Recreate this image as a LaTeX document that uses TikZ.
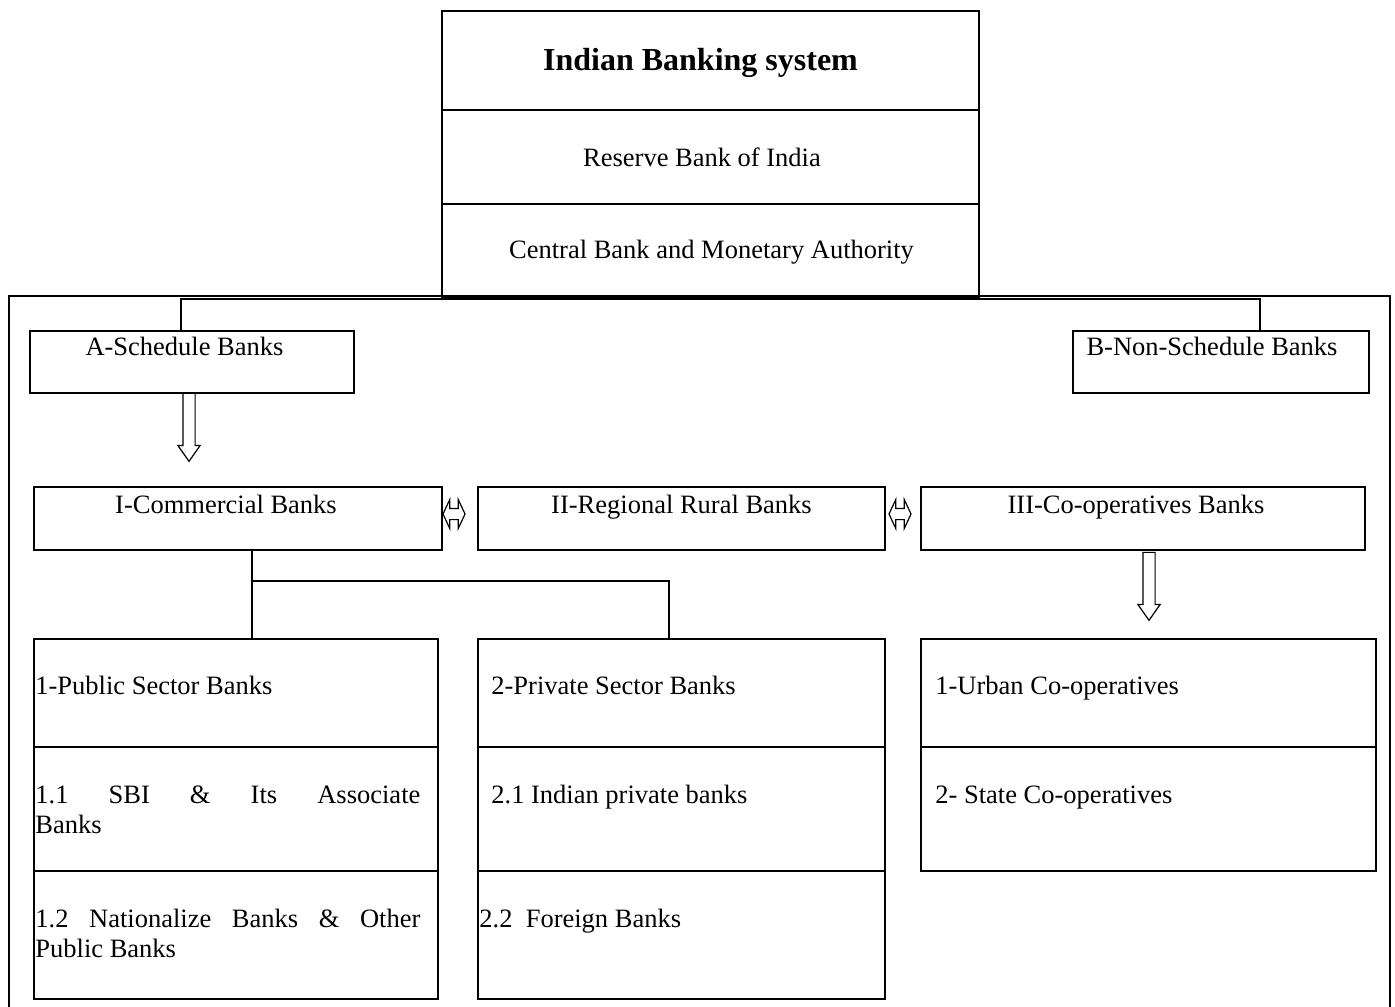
\documentclass[tikz,border=0pt]{standalone}
\usepackage{fontspec}
\setmainfont{Liberation Serif}
\usetikzlibrary{shapes.arrows}
\tikzset{
  cell/.style={draw, line width=1pt, anchor=north west, inner sep=0pt},
  lbl/.style={font=\fontsize{13.25}{15}\selectfont, inner sep=0pt, anchor=base},
  item/.style={lbl, anchor=base west, text width=192.5pt, align=justify},
  downarrow/.style={single arrow, draw, line width=0.6pt, shape border rotate=270,
    inner sep=2.75pt, minimum height=34pt, single arrow head extend=2.5pt,
    single arrow tip angle=70},
  twoarrow/.style={double arrow, draw, line width=0.6pt, inner sep=2.5pt,
    minimum height=11pt, double arrow head extend=4.5pt, double arrow tip angle=130}
}
\begin{document}
\begin{tikzpicture}[x=0.5pt, y=-0.5pt]
  \useasboundingbox (0,0) rectangle (1395,1006);
  % apex
  \node[cell, minimum width=268.5pt, minimum height=49.5pt] (top1) at (441,10) {};
  \node[cell, minimum width=268.5pt, minimum height=47pt] (top2) at (441,109) {};
  \node[cell, minimum width=268.5pt, minimum height=46.5pt] (top3) at (441,203) {};
  \node[lbl, font=\fontsize{16}{18}\selectfont\bfseries] (ttop1) at (700.5,71) {Indian Banking system};
  \node[lbl] (ttop2) at (702,166) {Reserve Bank of India};
  \node[lbl] (ttop3) at (711.5,258) {Central Bank and Monetary Authority};
  % outer frame
  \draw[line width=1pt] (9,1010) -- (9,296) -- (1390,296) -- (1390,1010);
  % A and B
  \node[cell, minimum width=162pt, minimum height=31pt] (A) at (29,330) {};
  \node[cell, minimum width=148pt, minimum height=31pt] (B) at (1072,330) {};
  \node[lbl] (tA) at (184.5,355) {A-Schedule Banks};
  \node[lbl] (tB) at (1212,355) {B-Non-Schedule Banks};
  \coordinate (sa) at (181,299);
  \coordinate (sb) at (1260,299);
  \draw[line width=1pt] (A.north -| sa) -- (sa) -- (sb) -- (B.north -| sb);
  \node[downarrow] (arrA) at (189,423) {};
  % I, II, III
  \node[cell, minimum width=204pt, minimum height=31.5pt] (I) at (33,486) {};
  \node[cell, minimum width=203.5pt, minimum height=31.5pt] (II) at (477,486) {};
  \node[cell, minimum width=222pt, minimum height=31.5pt] (III) at (920,486) {};
  \node[lbl] (tI) at (226,513) {I-Commercial Banks};
  \node[lbl] (tII) at (681.5,513) {II-Regional Rural Banks};
  \node[lbl] (tIII) at (1136,513) {III-Co-operatives Banks};
  \node[twoarrow] (d1) at (454,514) {};
  \node[twoarrow] (d2) at (900,514) {};
  \node[downarrow] (arrIII) at (1149,582) {};
  % public / private / co-operatives
  \node[cell, minimum width=202pt, minimum height=54pt] (p1) at (33,638) {};
  \node[cell, minimum width=202pt, minimum height=62pt] (p2) at (33,746) {};
  \node[cell, minimum width=202pt, minimum height=64pt] (p3) at (33,870) {};
  \node[cell, minimum width=203.5pt, minimum height=54pt] (q1) at (477,638) {};
  \node[cell, minimum width=203.5pt, minimum height=62pt] (q2) at (477,746) {};
  \node[cell, minimum width=203.5pt, minimum height=64pt] (q3) at (477,870) {};
  \node[cell, minimum width=227.5pt, minimum height=54pt] (c1) at (920,638) {};
  \node[cell, minimum width=227.5pt, minimum height=62pt] (c2) at (920,746) {};
  \coordinate (cl) at (252,581);
  \coordinate (cr) at (669,581);
  \draw[line width=1pt] (I.south -| cl) -- (p1.north -| cl);
  \draw[line width=1pt] (cl) -- (cr) -- (q1.north -| cr);
  \node[item] (tp1) at (35,694) {1-Public Sector Banks};
  \node[item] (tp2) at (35,803) {1.1 SBI \& Its Associate\linebreak Banks};
  \node[item] (tp3) at (35,927) {1.2 Nationalize Banks \& Other\linebreak Public Banks};
  \node[item] (tq1) at (491,694) {2-Private Sector Banks};
  \node[item] (tq2) at (491,803) {2.1 Indian private banks};
  \node[item] (tq3) at (479,927) {2.2\ \ Foreign Banks};
  \node[item] (tc1) at (935,694) {1-Urban Co-operatives};
  \node[item] (tc2) at (935,803) {2- State Co-operatives};
\end{tikzpicture}
\end{document}
